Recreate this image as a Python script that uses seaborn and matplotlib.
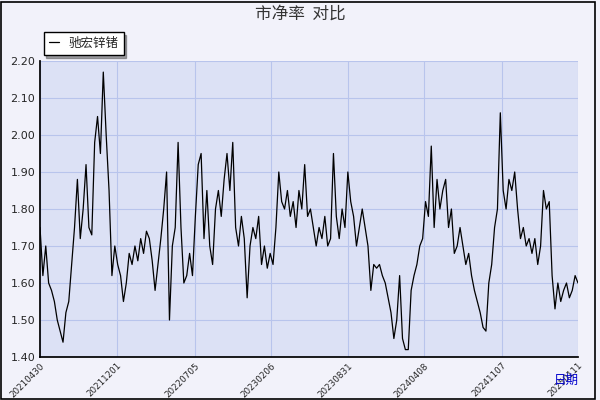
import matplotlib
matplotlib.use("Agg")
import matplotlib.pyplot as plt
import seaborn as sns
import numpy as np
import pandas as pd

tick_labels = ["20210430","20211201","20220705","20230206","20230831","20240408","20241107","20250111"]
values = [1.75,1.62,1.70,1.60,1.58,1.55,1.50,1.47,1.44,1.52,1.55,1.65,1.75,1.88,1.72,1.80,1.92,1.75,1.73,1.98,
          2.05,1.95,2.17,2.00,1.85,1.62,1.70,1.65,1.62,1.55,1.60,1.68,1.65,1.70,1.66,1.72,1.68,1.74,1.72,1.66,
          1.58,1.65,1.72,1.80,1.90,1.50,1.70,1.75,1.98,1.75,1.60,1.62,1.68,1.62,1.78,1.92,1.95,1.72,1.85,1.70,
          1.65,1.80,1.85,1.78,1.88,1.95,1.85,1.98,1.75,1.70,1.78,1.72,1.56,1.70,1.75,1.72,1.78,1.65,1.70,1.64,
          1.68,1.65,1.75,1.90,1.82,1.80,1.85,1.78,1.82,1.75,1.85,1.80,1.92,1.78,1.80,1.75,1.70,1.75,1.72,1.78,
          1.70,1.72,1.95,1.78,1.72,1.80,1.75,1.90,1.82,1.78,1.70,1.75,1.80,1.75,1.70,1.58,1.65,1.64,1.65,1.62,
          1.60,1.56,1.52,1.45,1.50,1.62,1.45,1.42,1.42,1.58,1.62,1.65,1.70,1.72,1.82,1.78,1.97,1.75,1.88,1.80,
          1.85,1.88,1.75,1.80,1.68,1.70,1.75,1.70,1.65,1.68,1.62,1.58,1.55,1.52,1.48,1.47,1.60,1.65,1.75,1.80,
          2.06,1.85,1.80,1.88,1.85,1.90,1.80,1.72,1.75,1.70,1.72,1.68,1.72,1.65,1.70,1.85,1.80,1.82,1.62,1.53,
          1.60,1.55,1.58,1.60,1.56,1.58,1.62,1.60]
legend_label = "驰宏锌锗"

sns.set_theme(style="white")
plt.rcParams['font.family'] = ['Noto Sans CJK SC', 'DejaVu Sans']

df = pd.DataFrame({"x": np.arange(len(values)), "y": values})
fig = plt.figure(figsize=(6, 4), dpi=100, facecolor="#F2F2FA")
ax = fig.add_axes([40/600, 1-357/400, 538/600, 296/400])
ax.set_facecolor("#DCE1F5")
sns.lineplot(data=df, x="x", y="y", ax=ax, color="black", linewidth=0.9, label=legend_label)
n = len(values) - 1
ax.set_xlim(0, n)
ax.set_ylim(1.40, 2.20)
ax.set_yticks(np.arange(1.40, 2.201, 0.10))
ax.set_yticklabels([f"{v:.2f}" for v in np.arange(1.40, 2.201, 0.10)], fontsize=8, family="DejaVu Sans")
tpx = np.array([40,117,195,271,348,424,502,578])
ax.set_xticks((tpx-40)/538*n)
ax.set_xticklabels(tick_labels, rotation=45, ha="right", rotation_mode="anchor", fontsize=6.3, family="DejaVu Sans")
ax.grid(True, color="#B8C4EC", linewidth=0.8)
ax.tick_params(axis="x", length=4, direction="in", pad=3)
ax.tick_params(axis="y", length=0)
for s in ["left","bottom"]:
    ax.spines[s].set_color("black")
for s in ["top","right"]:
    ax.spines[s].set_visible(False)
ax.set_xlabel(""); ax.set_ylabel("")
leg = ax.legend(loc="upper left", bbox_to_anchor=(-0.005, 1.12), frameon=True, fancybox=False,
                shadow=True, fontsize=9, handlelength=0.8, borderpad=0.4)
leg.get_frame().set_edgecolor("black")
leg.get_frame().set_facecolor("white")
fig.text(0.5, 0.965, "市净率  对比", ha="center", va="center", fontsize=12, color="#333333")
fig.text(0.965, 0.05, "日期", ha="right", va="center", fontsize=9, color="#0000CC")
fig.patches.append(plt.Rectangle((0.002, 0.003), 0.99, 0.993, transform=fig.transFigure,
                                 fill=False, edgecolor="black", linewidth=1.2))
fig.savefig("out.png", dpi=100, facecolor=fig.get_facecolor())
